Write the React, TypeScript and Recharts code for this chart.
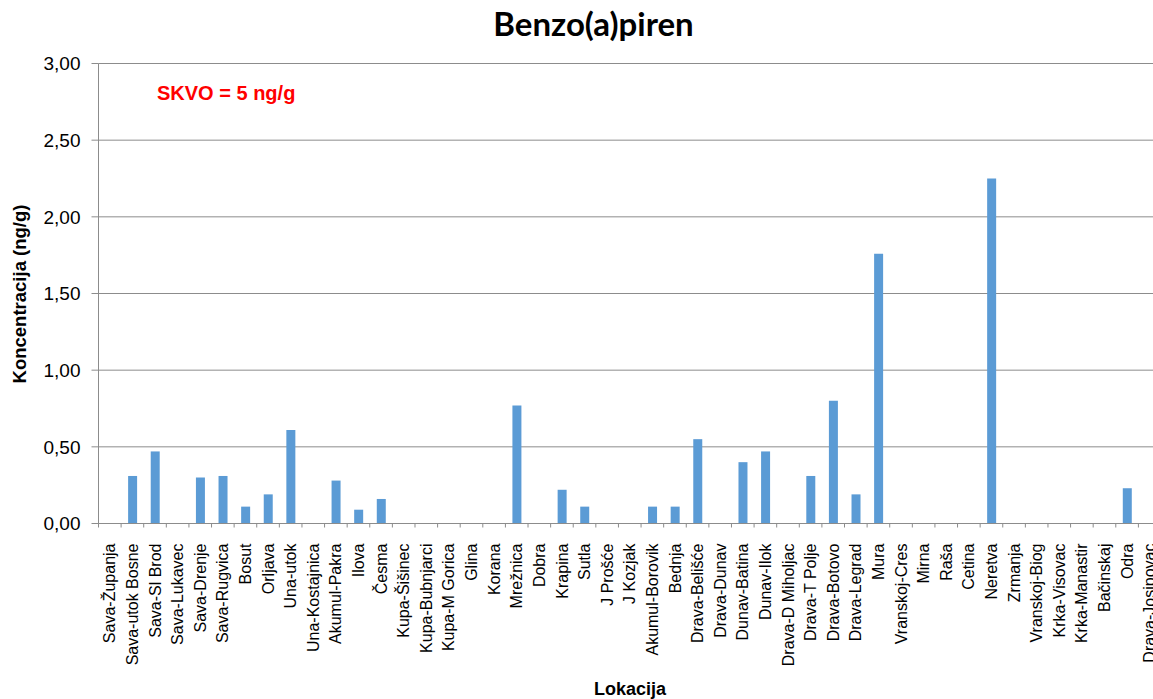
import React from 'react';
import { BarChart, Bar, XAxis, YAxis, CartesianGrid } from 'recharts';

const categories = [
  'Sava-Županja', 'Sava-utok Bosne', 'Sava-Sl Brod', 'Sava-Lukavec', 'Sava-Drenje',
  'Sava-Rugvica', 'Bosut', 'Orljava', 'Una-utok', 'Una-Kostajnica', 'Akumul-Pakra',
  'Ilova', 'Česma', 'Kupa-Šišinec', 'Kupa-Bubnjarci', 'Kupa-M Gorica', 'Glina',
  'Korana', 'Mrežnica', 'Dobra', 'Krapina', 'Sutla', 'J Prošće', 'J Kozjak',
  'Akumul-Borovik', 'Bednja', 'Drava-Belišće', 'Drava-Dunav', 'Dunav-Batina',
  'Dunav-Ilok', 'Drava-D Miholjac', 'Drava-T Polje', 'Drava-Botovo', 'Drava-Legrad',
  'Mura', 'Vranskoj-Cres', 'Mirna', 'Raša', 'Cetina', 'Neretva', 'Zrmanja',
  'Vranskoj-Biog', 'Krka-Visovac', 'Krka-Manastir', 'Bačinskaj', 'Odra', 'Drava-Josipovac',
];

const values = [
  0, 0.31, 0.47, 0, 0.30,
  0.31, 0.11, 0.19, 0.61, 0, 0.28,
  0.09, 0.16, 0, 0, 0, 0,
  0, 0.77, 0, 0.22, 0.11, 0, 0,
  0.11, 0.11, 0.55, 0, 0.40,
  0.47, 0, 0.31, 0.80, 0.19,
  1.76, 0, 0, 0, 0, 2.25, 0,
  0, 0, 0, 0, 0.23, 0,
];

const yTicks = [0, 0.5, 1, 1.5, 2, 2.5, 3];

const title = 'Benzo(a)piren';
const note = 'SKVO = 5 ng/g';
const yTitle = 'Koncentracija (ng/g)';
const xTitle = 'Lokacija';

const data = categories.map((name, i) => ({ name, value: values[i] }));

const AXIS = '#8c8c8c';
const FONT = '"Liberation Sans", Arial, sans-serif';

const CategoryTick = (props: any) => {
  const { x, y, payload } = props;
  const half = payload && payload.offset ? payload.offset : 11.3;
  return (
    <g>
      <line x1={x - half} x2={x - half} y1={y} y2={y + 4} stroke={AXIS} strokeWidth={1} />
      <text
        x={x}
        y={y + 20}
        dy="0.35em"
        transform={`rotate(-90, ${x}, ${y + 20})`}
        textAnchor="end"
        fontFamily={FONT}
        fontSize={16}
        fill="#000"
      >
        {payload.value}
      </text>
    </g>
  );
};

export default function App() {
  return (
    <div style={{ position: 'absolute', left: 0, top: 0, width: 1153, height: 699, overflow: 'hidden' }}>
      <BarChart
        width={1161}
        height={699}
        data={data}
        margin={{ top: 63.5, right: 0, bottom: 0, left: 0 }}
        barSize={9}
      >
        <CartesianGrid vertical={false} stroke={AXIS} strokeWidth={1} />
        <XAxis
          dataKey="name"
          interval={0}
          height={175.5}
          tickLine={false}
          tickSize={0}
          tickMargin={0}
          axisLine={{ stroke: AXIS, strokeWidth: 1 }}
          tick={<CategoryTick />}
        />
        <YAxis
          width={98.5}
          domain={[0, 3]}
          ticks={yTicks}
          interval={0}
          tickSize={7}
          tickMargin={11}
          tickFormatter={(v: number) => v.toFixed(2).replace('.', ',')}
          axisLine={{ stroke: AXIS, strokeWidth: 1 }}
          tickLine={{ stroke: AXIS, strokeWidth: 1 }}
          tick={{ fill: '#000', fontSize: 19, fontFamily: FONT }}
        />
        <Bar dataKey="value" fill="#5B9BD5" isAnimationActive={false} />
        <text x={593.5} y={36} textAnchor="middle" fontFamily="Lato, sans-serif" fontWeight="bold" fontSize={33} fill="#000">
          {title}
        </text>
        <text x={157} y={100} fontFamily={FONT} fontWeight="bold" fontSize={20} fill="#FF0000">
          {note}
        </text>
        <text
          x={26}
          y={294}
          transform="rotate(-90, 26, 294)"
          textAnchor="middle"
          fontFamily={FONT}
          fontWeight="bold"
          fontSize={18.5}
          fill="#000"
        >
          {yTitle}
        </text>
        <text x={630} y={695} textAnchor="middle" fontFamily={FONT} fontWeight="bold" fontSize={18} fill="#000">
          {xTitle}
        </text>
      </BarChart>
    </div>
  );
}
